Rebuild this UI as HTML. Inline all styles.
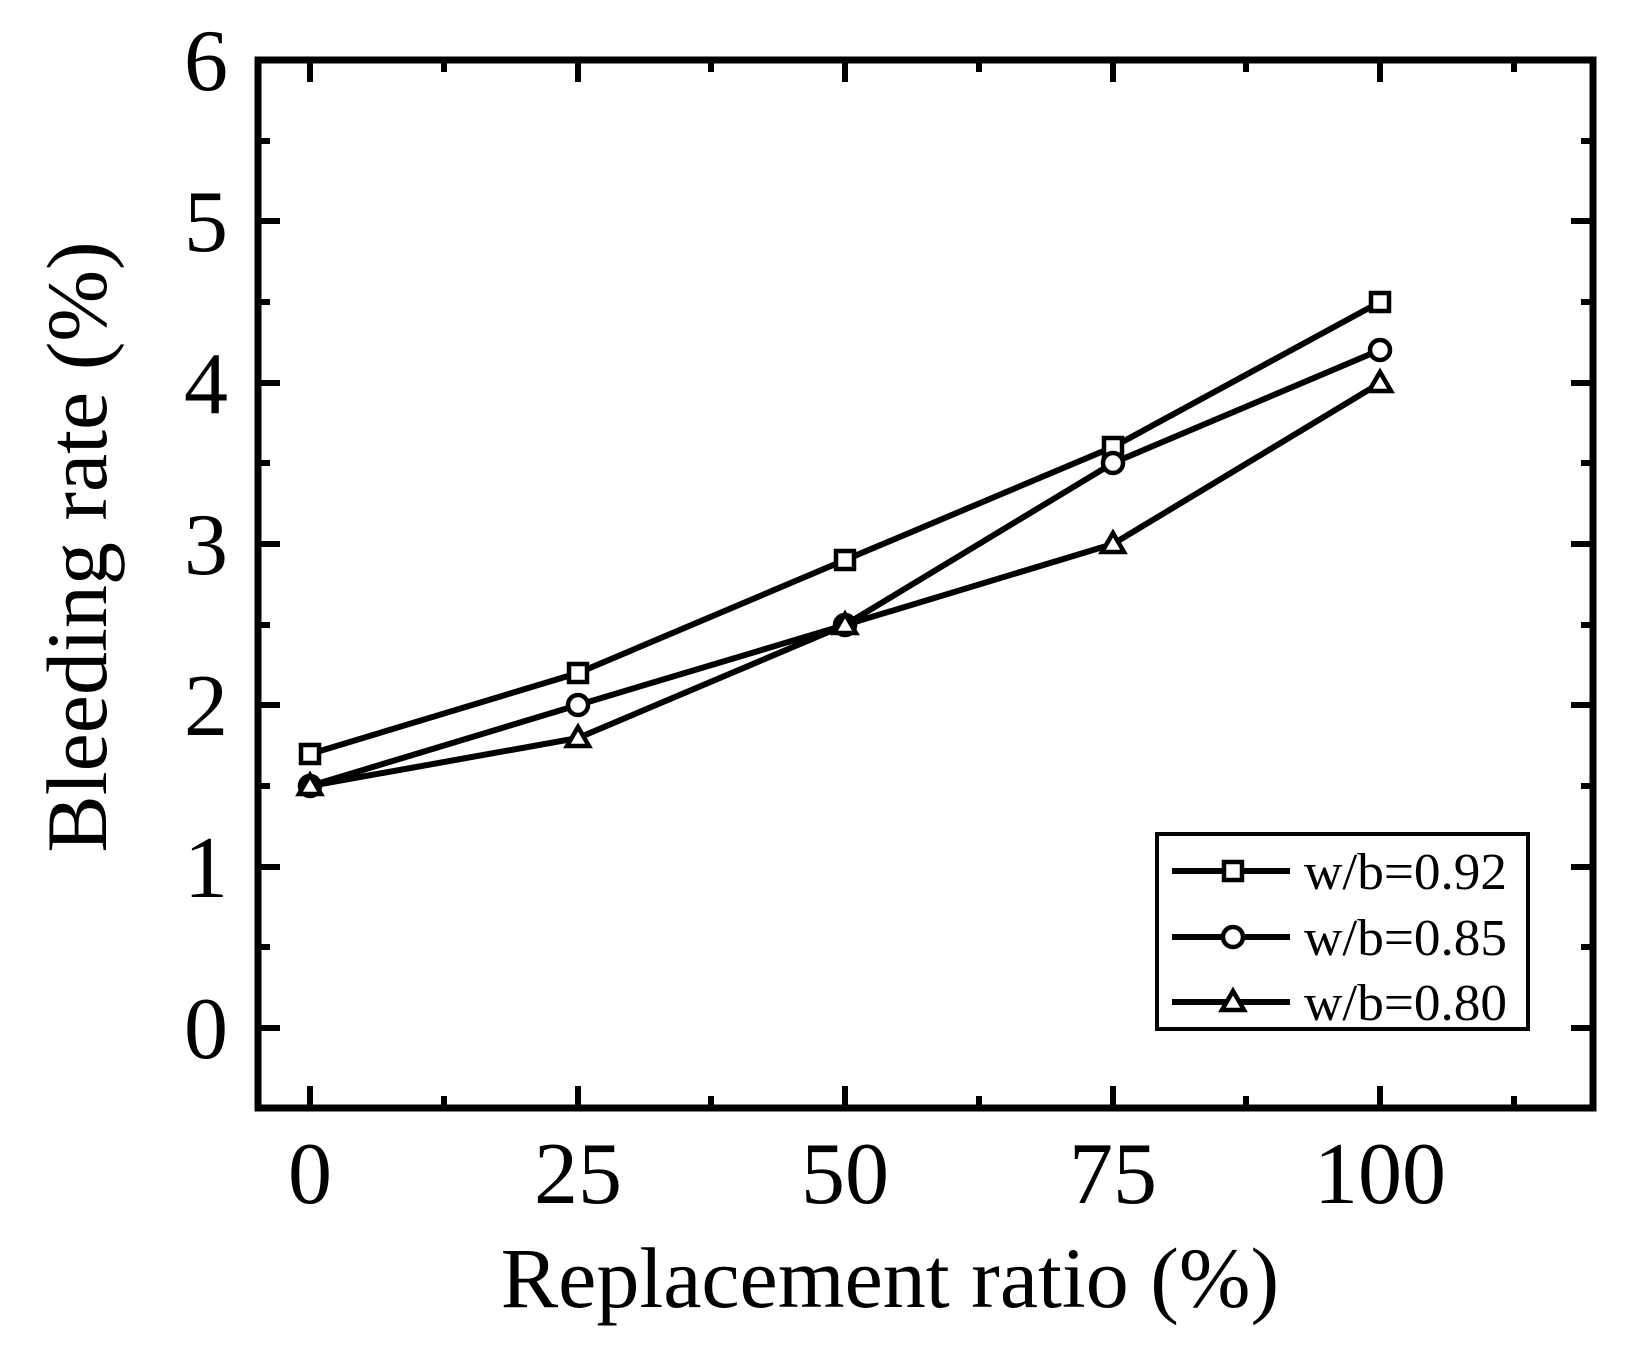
<!DOCTYPE html>
<html><head><style>body{margin:0;background:#fff}svg{display:block}</style></head><body>
<svg width="1630" height="1353" viewBox="0 0 1630 1353" xmlns="http://www.w3.org/2000/svg" font-family="Liberation Serif, serif">
<rect width="1630" height="1353" fill="#fff"/>
<g stroke="#000" stroke-width="6" fill="none">
<path d="M258 1028h22M258 867h22M258 705h22M258 544h22M258 383h22M258 221h22M258 60h22
M1593 1028h-22M1593 867h-22M1593 705h-22M1593 544h-22M1593 383h-22M1593 221h-22
M258 947h12M258 786h12M258 625h12M258 463h12M258 302h12M258 141h12
M1593 947h-12M1593 786h-12M1593 625h-12M1593 463h-12M1593 302h-12M1593 141h-12
M310 1108v-22M578 1108v-22M845 1108v-22M1113 1108v-22M1380 1108v-22
M310 60v22M578 60v22M845 60v22M1113 60v22M1380 60v22
M444 1108v-12M711 1108v-12M979 1108v-12M1246 1108v-12M1514 1108v-12
M444 60v12M711 60v12M979 60v12M1246 60v12M1514 60v12"/>
<rect x="258" y="60" width="1335" height="1048" stroke-width="7"/>
</g>
<g stroke="#000" stroke-width="6" fill="none">
<polyline points="310,754 578,673 845,560 1113,447 1380,302"/>
<polyline points="310,786 578,705 845,625 1113,463 1380,350"/>
<polyline points="310,786 578,738 845,625 1113,544 1380,383"/>
</g>
<g stroke="#000" stroke-width="4.5" fill="#fff">
<rect x="301" y="745" width="18" height="18"/><rect x="569" y="664" width="18" height="18"/><rect x="836" y="551" width="18" height="18"/><rect x="1104" y="438" width="18" height="18"/><rect x="1371" y="293" width="18" height="18"/>
<circle cx="310" cy="786" r="10"/><circle cx="578" cy="705" r="10"/><circle cx="845" cy="625" r="10"/><circle cx="1113" cy="463" r="10"/><circle cx="1380" cy="350" r="10"/>
<path d="M310 775l11 19h-22z"/><path d="M578 727l11 19h-22z"/><path d="M845 614l11 19h-22z"/><path d="M1113 533l11 19h-22z"/><path d="M1380 372l11 19h-22z"/>
</g>
<rect x="1157" y="834" width="371" height="195" fill="#fff" stroke="#000" stroke-width="4"/>
<g stroke="#000" stroke-width="6"><path d="M1172 871h118M1172 937h118M1172 1002h118"/></g>
<g stroke="#000" stroke-width="4.5" fill="#fff">
<rect x="1224" y="862" width="18" height="18"/><circle cx="1233" cy="937" r="10"/><path d="M1233 991l11 19h-22z"/>
</g>
<g font-size="52" fill="#000"><text x="1304" y="889" textLength="203" lengthAdjust="spacingAndGlyphs">w/b=0.92</text><text x="1304" y="955" textLength="203" lengthAdjust="spacingAndGlyphs">w/b=0.85</text><text x="1304" y="1020" textLength="203" lengthAdjust="spacingAndGlyphs">w/b=0.80</text></g>
<g font-size="88" text-anchor="end" fill="#000">
<text x="228" y="1058">0</text><text x="228" y="897">1</text><text x="228" y="735">2</text><text x="228" y="574">3</text><text x="228" y="413">4</text><text x="228" y="251">5</text><text x="228" y="90">6</text>
</g>
<g font-size="88" text-anchor="middle" fill="#000">
<text x="310" y="1203">0</text><text x="578" y="1203">25</text><text x="845" y="1203">50</text><text x="1113" y="1203">75</text><text x="1380" y="1203">100</text>
<text x="890" y="1307" font-size="86">Replacement ratio (%)</text>
<text transform="translate(106,547) rotate(-90)" font-size="86">Bleeding rate (%)</text>
</g>
</svg>
</body></html>
